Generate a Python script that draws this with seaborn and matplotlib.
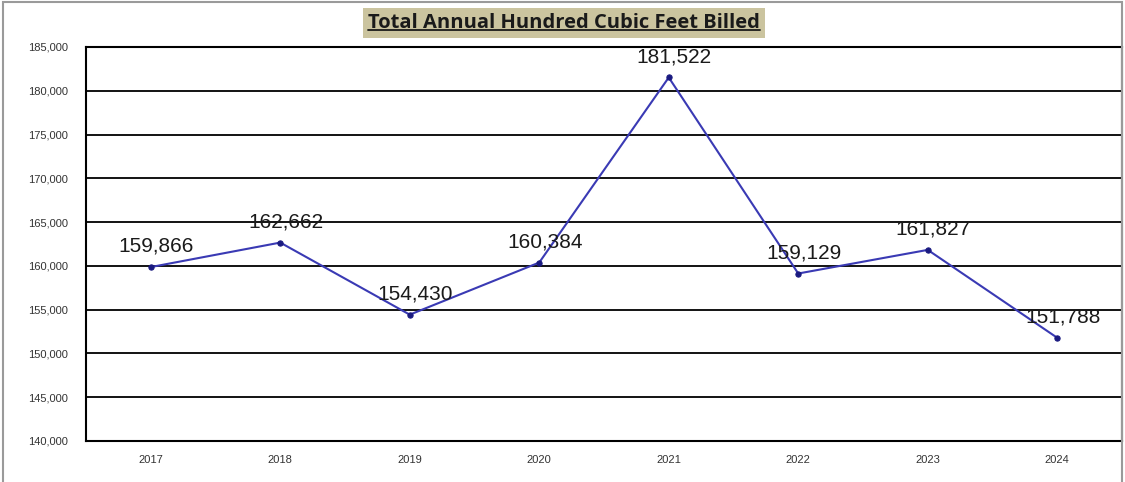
import matplotlib
matplotlib.use("Agg")
import matplotlib.pyplot as plt
from matplotlib.lines import Line2D
from matplotlib.patches import Rectangle
from matplotlib.ticker import FixedLocator, FuncFormatter
import seaborn as sns
import pandas as pd

years = ["2017", "2018", "2019", "2020", "2021", "2022", "2023", "2024"]
ccf_billed = [159866, 162662, 154430, 160384, 181522, 159129, 161827, 151788]
y_ticks = [140000, 145000, 150000, 155000, 160000, 165000, 170000, 175000, 180000, 185000]
title = "Total Annual Hundred Cubic Feet Billed"

sns.set_theme(style="white")
plt.rcParams["font.family"] = ["Liberation Sans", "DejaVu Sans"]

df = pd.DataFrame({"pos": range(len(years)), "year": years, "ccf": ccf_billed})

fig = plt.figure(figsize=(11.25, 4.82), dpi=100)
ax = fig.add_axes([86 / 1125, 1 - 441 / 482, (1122 - 86) / 1125, (441 - 47) / 482])

sns.lineplot(data=df, x="pos", y="ccf", ax=ax, color="#3a3ab4", linewidth=1.5,
             marker="o", markersize=3.8, markerfacecolor="#1a1a80",
             markeredgecolor="#1a1a80", zorder=3)

ax.set_xlim(-0.5, len(years) - 0.5)
ax.set_ylim(y_ticks[0], y_ticks[-1])
ax.set_yticks(y_ticks)
ax.yaxis.set_major_formatter(FuncFormatter(lambda v, p: f"{int(v):,}"))
ax.set_xticks(list(df["pos"]))
ax.set_xticklabels(years)
ax.xaxis.set_minor_locator(FixedLocator([i + 0.5 for i in range(-1, len(years))]))
ax.tick_params(axis="x", which="major", length=0, pad=10, labelsize=8, labelcolor="#333333")
ax.tick_params(axis="x", which="minor", length=5, width=1.5, color="black", direction="out")
ax.tick_params(axis="y", which="major", length=5, width=1.5, color="black", direction="out",
               labelsize=8, labelcolor="#333333", pad=8)
ax.set_xlabel("")
ax.set_ylabel("")

for v in y_ticks:
    ax.axhline(v, color="black", linewidth=1.3, zorder=1)
for s in ax.spines.values():
    s.set_color("black")
    s.set_linewidth(1.5)

for x, v in zip(df["pos"], df["ccf"]):
    ax.annotate(f"{v:,}", (x, v), xytext=(4, 8), textcoords="offset points",
                ha="center", va="bottom", fontsize=15, color="#1a1a1a", zorder=4)

# outer chart frame
fig.patches.append(Rectangle((3 / 1125, -0.02), 1119 / 1125, 1 - 2 / 482 + 0.02,
                             transform=fig.transFigure, fill=False,
                             edgecolor="#9a9a9a", linewidth=1.5))

t = fig.text(564 / 1125, 1 - 23 / 482, title, ha="center", va="center",
             fontsize=14.5, fontweight="bold", family=["Open Sans", "DejaVu Sans"],
             color="#1a1a1a", zorder=3,
             bbox=dict(boxstyle="square,pad=0.25", facecolor="#cbc49f", edgecolor="none"))
fig.canvas.draw()
bb = t.get_window_extent(renderer=fig.canvas.get_renderer())
inv = fig.transFigure.inverted()
(x0, y0), (x1, y1) = inv.transform([(bb.x0, bb.y0), (bb.x1, bb.y1)])
fig.lines.append(Line2D([x0, x1], [y0 + 0.006, y0 + 0.006], transform=fig.transFigure,
                        color="#1a1a1a", linewidth=1.3, zorder=6))

fig.savefig("out.png", dpi=100)
